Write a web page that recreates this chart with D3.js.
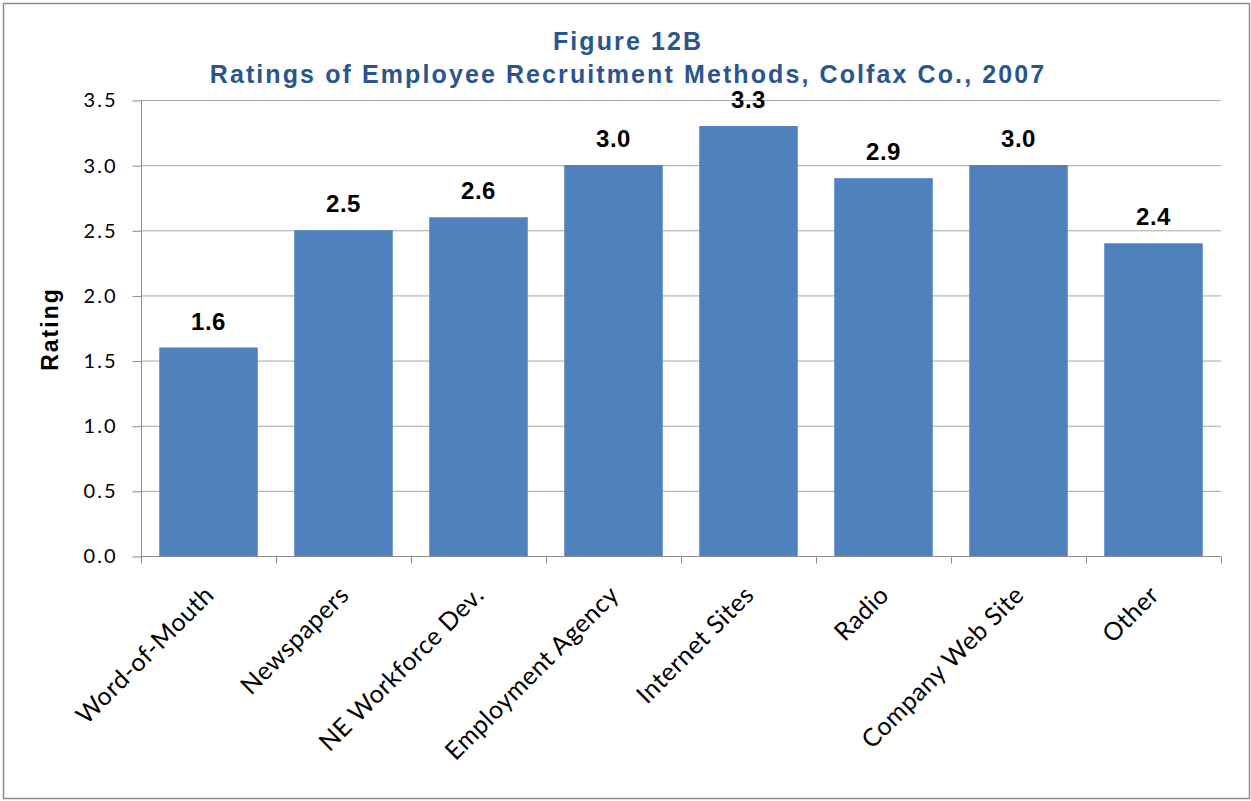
<!DOCTYPE html>
<html>
<head>
<meta charset="utf-8">
<script src="https://cdn.jsdelivr.net/npm/d3@7"></script>
<style>
  html, body { margin: 0; padding: 0; background: #fff; }
  svg { display: block; }
</style>
</head>
<body>
<svg id="chart" width="1251" height="801"></svg>
<script>
// Recruitment method ratings
const categories = ["Word-of-Mouth", "Newspapers", "NE Workforce Dev.", "Employment Agency",
                    "Internet Sites", "Radio", "Company Web Site", "Other"];
const ratings = [1.6, 2.5, 2.6, 3.0, 3.3, 2.9, 3.0, 2.4];
const yTicks = [0, 0.5, 1.0, 1.5, 2.0, 2.5, 3.0, 3.5];
const titleLines = ["Figure 12B", "Ratings of Employee Recruitment Methods, Colfax Co., 2007"];
const yAxisTitle = "Rating";

const W = 1251, H = 801;
const plot = { left: 141, right: 1221, top: 100, bottom: 556 };
const axisGrey = "#8c8c8c";

const svg = d3.select("#chart");

// outer frame
svg.append("rect")
  .attr("x", 3.5).attr("y", 3.5)
  .attr("width", W - 5).attr("height", H - 6)
  .attr("fill", "#fff").attr("stroke", axisGrey).attr("stroke-width", 1.5);

const x = d3.scaleBand().domain(categories).range([plot.left, plot.right])
  .paddingInner(0.27).paddingOuter(0.135);
const y = d3.scaleLinear().domain([0, 3.5]).range([plot.bottom, plot.top]);

// horizontal gridlines
svg.append("g").selectAll("line").data(yTicks.filter(d => d > 0)).join("line")
  .attr("x1", plot.left).attr("x2", plot.right)
  .attr("y1", d => y(d) + 0.5).attr("y2", d => y(d) + 0.5)
  .attr("stroke", "#a6a6a6").attr("stroke-width", 1);

// bars
svg.append("g").selectAll("rect").data(ratings).join("rect")
  .attr("x", (d, i) => x(categories[i]))
  .attr("y", d => y(d))
  .attr("width", x.bandwidth())
  .attr("height", d => y(0) - y(d))
  .attr("fill", "#4f81bd");

// value labels
svg.append("g").selectAll("text").data(ratings).join("text")
  .attr("x", (d, i) => x(categories[i]) + x.bandwidth() / 2)
  .attr("y", d => y(d) - 18)
  .attr("text-anchor", "middle")
  .attr("font-family", "Liberation Sans, Arial, sans-serif")
  .attr("font-weight", "bold")
  .attr("font-size", 24)
  .attr("letter-spacing", 0.5)
  .attr("fill", "#000")
  .text(d => d.toFixed(1));

// y axis
const yAxis = d3.axisLeft(y).tickValues(yTicks).tickFormat(d3.format(".1f")).tickSize(9).tickPadding(15);
const gy = svg.append("g").attr("transform", `translate(${plot.left + 0.5},0.5)`).call(yAxis);
gy.select(".domain").attr("stroke", axisGrey).attr("d", `M0,${plot.top}V${plot.bottom}`);
gy.selectAll(".tick line").attr("stroke", axisGrey);
gy.selectAll(".tick text")
  .attr("font-family", "Lato, sans-serif")
  .attr("font-size", 20)
  .attr("letter-spacing", 2)
  .attr("fill", "#000");

// x axis with boundary ticks between categories
const gx = svg.append("g").attr("transform", `translate(0,${plot.bottom + 0.5})`);
gx.append("line").attr("x1", plot.left).attr("x2", plot.right + 0.5)
  .attr("stroke", axisGrey);
const step = x.step();
const boundaries = d3.range(categories.length + 1).map(i => plot.left + i * step);
gx.selectAll("line.tk").data(boundaries).join("line").attr("class", "tk")
  .attr("x1", d => Math.round(d) + 0.5).attr("x2", d => Math.round(d) + 0.5)
  .attr("y1", 0).attr("y2", 7)
  .attr("stroke", axisGrey);

gx.selectAll("text").data(categories).join("text")
  .attr("transform", d => `translate(${x(d) + x.bandwidth() / 2 + 7},${40}) rotate(-45)`)
  .attr("text-anchor", "end")
  .attr("font-family", "Lato, sans-serif")
  .attr("font-size", 25)
  .attr("letter-spacing", 0.5)
  .attr("fill", "#000")
  .text(d => d);

// y axis title
svg.append("text")
  .attr("transform", `translate(58,${(plot.top + plot.bottom) / 2 + 1}) rotate(-90)`)
  .attr("text-anchor", "middle")
  .attr("font-family", "Liberation Sans, Arial, sans-serif")
  .attr("font-weight", "bold")
  .attr("font-size", 23)
  .attr("letter-spacing", 2)
  .attr("fill", "#000")
  .text(yAxisTitle);

// chart title
svg.append("g").selectAll("text").data(titleLines).join("text")
  .attr("x", 628)
  .attr("y", (d, i) => 50 + i * 33)
  .attr("text-anchor", "middle")
  .attr("font-family", "Liberation Sans, Arial, sans-serif")
  .attr("font-weight", "bold")
  .attr("font-size", 25)
  .attr("letter-spacing", 2.1)
  .attr("fill", "#2a5590")
  .text(d => d);
</script>
</body>
</html>
